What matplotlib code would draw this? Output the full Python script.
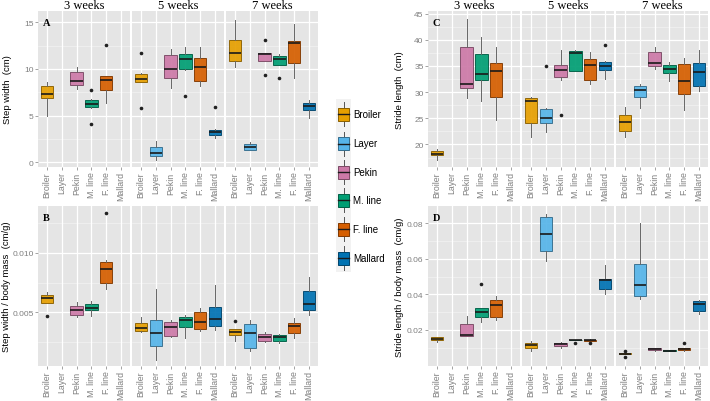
import numpy as np
import matplotlib
matplotlib.use("Agg")
import matplotlib.pyplot as plt
from matplotlib.patches import Rectangle
from matplotlib.colors import to_rgb

nan = np.nan
breeds = ["Broiler", "Layer", "Pekin", "M. line", "F. line", "Mallard"]
weeks = ["3 weeks", "5 weeks", "7 weeks"]
colors = ["#E69F00", "#56B4E9", "#CC79A7", "#009E73", "#D55E00", "#0072B2"]

# ---- Panel A: step width (cm) ----
A_lo = [[5.0, nan, 7.9, 5.8, 6.4, nan], [8.6, 0.25, 8.0, 9.9, 8.2, 2.56], [10.2, 1.3, 10.9, 10.4, 9.0, 4.7]]
A_q1 = [[6.84, nan, 8.3, 5.88, 7.76, nan], [8.55, 0.64, 8.98, 9.98, 8.73, 2.95], [10.8, 1.35, 10.87, 10.44, 10.58, 5.62]]
A_md = [[7.3, nan, 8.69, 6.2, 8.8, nan], [8.94, 0.99, 9.98, 11.05, 10.2, 3.2], [11.69, 1.67, 11.58, 11.05, 12.76, 6.05]]
A_q3 = [[8.12, nan, 9.62, 6.69, 9.19, nan], [9.47, 1.6, 11.47, 11.58, 11.2, 3.49], [13.1, 1.96, 11.69, 11.33, 13.0, 6.34]]
A_hi = [[8.55, nan, 10.16, 6.83, 9.19, nan], [9.6, 2.31, 12.1, 12.3, 12.36, 3.6], [15.25, 2.2, 11.75, 11.6, 14.86, 6.69]]
A_fl = [[[], [], [], [7.76, 4.1], [12.57], []],
        [[11.69, 5.8], [], [], [7.05], [], [5.88]],
        [[], [], [13.08, 9.33], [9.01], [], []]]

# ---- Panel B: step width / body mass (cm/g) ----
B_lo = [[0.00583, nan, 0.00458, 0.00472, 0.0070, nan],
        [0.00339, 0.00106, 0.00292, 0.00283, 0.00347, 0.00356],
        [0.00258, 0.00175, 0.0025, 0.00247, 0.00286, 0.00478]]
B_q1 = [[0.00583, nan, 0.00478, 0.00522, 0.0075, nan],
        [0.00347, 0.00222, 0.00306, 0.00375, 0.00361, 0.00383],
        [0.00314, 0.0020, 0.00264, 0.00258, 0.00328, 0.00522]]
B_md = [[0.00617, nan, 0.00522, 0.00539, 0.00861, nan],
        [0.00367, 0.00325, 0.0038, 0.00436, 0.00422, 0.00444],
        [0.00339, 0.00328, 0.00292, 0.00297, 0.00389, 0.00569]]
B_q3 = [[0.00644, nan, 0.0055, 0.00567, 0.00922, nan],
        [0.00411, 0.00436, 0.00422, 0.00458, 0.0050, 0.00542],
        [0.00361, 0.00403, 0.00319, 0.00311, 0.00408, 0.00681]]
B_hi = [[0.00672, nan, 0.00589, 0.00597, 0.00936, nan],
        [0.00458, 0.00694, 0.00436, 0.00478, 0.00533, 0.00733],
        [0.00361, 0.00436, 0.00333, 0.00317, 0.0045, 0.0080]]
B_fl = [[[0.00472], [], [], [], [0.01328], []],
        [[], [], [], [], [], []],
        [[0.00425], [], [], [], [], []]]

# ---- Panel C: stride length (cm) ----
C_lo = [[17.1, nan, 28.9, 28.3, 24.7, nan], [21.4, 22.4, 32.3, 34.0, 31.5, 32.6], [21.4, 26.9, 34.4, 32.2, 26.5, 30.2]]
C_q1 = [[17.9, nan, 30.8, 32.4, 29.0, nan], [24.1, 24.1, 32.8, 34.0, 32.4, 34.2], [22.5, 29.1, 34.9, 33.6, 29.6, 31.2]]
C_md = [[18.2, nan, 31.5, 33.4, 34.1, nan], [28.3, 25.1, 34.2, 37.4, 35.1, 34.9], [24.3, 30.4, 35.6, 34.4, 32.1, 33.8]]
C_q3 = [[18.85, nan, 38.7, 37.2, 35.5, nan], [28.8, 26.7, 35.1, 37.9, 36.3, 35.7], [25.6, 31.2, 37.6, 35.1, 35.3, 35.5]]
C_hi = [[19.2, nan, 44.0, 40.6, 38.7, nan], [29.0, 26.9, 38.0, 38.1, 37.6, 35.9], [27.2, 31.5, 38.7, 35.8, 36.5, 38.1]]
C_fl = [[[], [], [], [], [], []],
        [[], [34.9], [25.6], [], [], [39.0]],
        [[], [], [], [], [], []]]

# ---- Panel D: stride length / body mass (cm/g) ----
D_lo = [[0.0133, nan, 0.0166, 0.0247, 0.0254, nan],
        [0.0083, 0.0589, 0.0096, 0.0141, 0.0138, 0.0403],
        [0.0062, 0.0375, 0.0083, 0.0080, 0.0083, 0.0291]]
D_q1 = [[0.0142, nan, 0.0166, 0.0275, 0.0273, nan],
        [0.0101, 0.0645, 0.0107, 0.0141, 0.0138, 0.0431],
        [0.0062, 0.0390, 0.0085, 0.0081, 0.0085, 0.0306]]
D_md = [[0.0151, nan, 0.0172, 0.0301, 0.0342, nan],
        [0.0114, 0.0740, 0.0120, 0.0142, 0.0142, 0.0480],
        [0.0064, 0.0455, 0.0090, 0.0084, 0.0094, 0.0343]]
D_q3 = [[0.0159, nan, 0.0235, 0.0321, 0.0371, nan],
        [0.0125, 0.0837, 0.0129, 0.0143, 0.0146, 0.0489],
        [0.0068, 0.0572, 0.0096, 0.0088, 0.0099, 0.0362]]
D_hi = [[0.0162, nan, 0.0278, 0.0325, 0.0390, nan],
        [0.0138, 0.0852, 0.0131, 0.0144, 0.0147, 0.0567],
        [0.0068, 0.0800, 0.0098, 0.0089, 0.0101, 0.0368]]
D_fl = [[[], [], [], [0.0461], [], []],
        [[], [], [], [0.0124], [0.0129], []],
        [[0.0083, 0.0045], [], [], [], [0.0125], []]]

panels = [
    dict(letter="A", data=(A_lo, A_q1, A_md, A_q3, A_hi, A_fl), ylim=(-0.5, 16.2),
         yticks=[0, 5, 10, 15], ylabels=["0", "5", "10", "15"], label="Step width  (cm)",
         box=(38, 12, 318, 168)),
    dict(letter="B", data=(B_lo, B_q1, B_md, B_q3, B_hi, B_fl), ylim=(0.00052, 0.0139),
         yticks=[0.005, 0.010], ylabels=["0.005", "0.010"], label="Step width / body mass  (cm/g)",
         box=(38, 207, 318, 367)),
    dict(letter="C", data=(C_lo, C_q1, C_md, C_q3, C_hi, C_fl), ylim=(15.7, 45.5),
         yticks=[20, 25, 30, 35, 40, 45], ylabels=["20", "25", "30", "35", "40", "45"],
         label="Stride length  (cm)", box=(428, 12, 708, 168)),
    dict(letter="D", data=(D_lo, D_q1, D_md, D_q3, D_hi, D_fl), ylim=(-0.0003, 0.0897),
         yticks=[0.02, 0.04, 0.06, 0.08], ylabels=["0.02", "0.04", "0.06", "0.08"],
         label="Stride length / body mass  (cm/g)", box=(428, 207, 708, 367)),
]

W, H = 710, 402
fig = plt.figure(figsize=(W / 100, H / 100), dpi=100)
SANS = "Liberation Sans"
SERIF = "Liberation Serif"
TICKC = "#7F7F7F"
BG = "#E5E5E5"


def darker(c, f=0.55):
    r, g, b = to_rgb(c)
    return (r * f, g * f, b * f)


def px_axes(x0, y0, x1, y1):
    return fig.add_axes([x0 / W, 1 - y1 / H, (x1 - x0) / W, (y1 - y0) / H])


gap = 2.0
for p in panels:
    x0, y0, x1, y1 = p["box"]
    fw = (x1 - x0 - 2 * gap) / 3
    lo, q1, md, q3, hi, fl = p["data"]
    for w in range(3):
        fx0 = x0 + w * (fw + gap)
        ax = px_axes(fx0, y0, fx0 + fw, y1)
        ax.set_facecolor(BG)
        for s in ax.spines.values():
            s.set_visible(False)
        ax.set_xlim(0.4, 6.6)
        ax.set_ylim(*p["ylim"])
        yt = p["yticks"]
        step = yt[1] - yt[0]
        minors = [t - step / 2 for t in yt] + [yt[-1] + step / 2]
        for m in minors:
            ax.axhline(m, color="#F2F2F2", lw=0.5, zorder=0.5)
        for t in yt:
            ax.axhline(t, color="white", lw=0.9, zorder=0.6)
        for i in range(6):
            ax.axvline(i + 1, color="white", lw=0.9, zorder=0.6)
        stats = []
        pos = []
        for i in range(6):
            if np.isnan(md[w][i]):
                continue
            stats.append(dict(whislo=lo[w][i], q1=q1[w][i], med=md[w][i], q3=q3[w][i],
                              whishi=hi[w][i], fliers=fl[w][i]))
            pos.append(i + 1)
        bp = ax.bxp(stats, positions=pos, widths=0.82, patch_artist=True, showcaps=False,
                    manage_ticks=False,
                    flierprops=dict(marker="o", markersize=1.6, markerfacecolor="#222222",
                                    markeredgecolor="#222222", linestyle="none"),
                    whiskerprops=dict(color="#666666", lw=0.7),
                    medianprops=dict(lw=1.2))
        ci = [i for i in range(6) if not np.isnan(md[w][i])]
        for k, i in enumerate(ci):
            bp["boxes"][k].set_facecolor(colors[i])
            bp["boxes"][k].set_alpha(0.92)
            bp["boxes"][k].set_edgecolor(darker(colors[i], 0.6))
            bp["boxes"][k].set_linewidth(0.7)
            bp["medians"][k].set_color("#1a1a1a")
        ax.set_xticks(range(1, 7))
        ax.set_xticklabels(breeds, rotation=90, fontsize=6.3, color=TICKC, family=SANS)
        ax.tick_params(axis="both", length=2, width=0.5, color=TICKC, pad=1.2)
        if w == 0:
            ax.set_yticks(yt)
            ax.set_yticklabels(p["ylabels"], fontsize=6.0, color=TICKC, family=SANS)
            ax.text(0.05, 0.955, p["letter"], transform=ax.transAxes, ha="left", va="top",
                    fontsize=7.5, fontweight="bold", family=SERIF)
        else:
            ax.set_yticks(yt)
            ax.set_yticklabels([])
            ax.tick_params(axis="y", length=0)
        if y0 < 100:
            fig.text((fx0 + fw / 2) / W, 1 - 6 / H, weeks[w], ha="center", va="center",
                     fontsize=9, family=SERIF)
    lx = 7 if x0 < 100 else 400
    fig.text(lx / W, 1 - ((y0 + y1) / 2) / H, p["label"], rotation=90, ha="center",
             va="center", fontsize=6.8, family=SANS)

# ---- legend ----
lg = px_axes(336, 100, 351, 273)
lg.set_xlim(0, 1)
lg.set_ylim(273, 100)
lg.set_facecolor("#F2F2F2")
for s in lg.spines.values():
    s.set_visible(False)
lg.set_xticks([])
lg.set_yticks([])
centers = [115, 144.5, 173, 201, 230, 259]
for c, col, name in zip(centers, colors, breeds):
    lg.plot([0.5, 0.5], [c - 12, c + 12], color="#555555", lw=0.7, zorder=1)
    lg.add_patch(Rectangle((0.12, c - 6.5), 0.76, 13, facecolor=col, edgecolor=darker(col, 0.6),
                           lw=0.7, zorder=2))
    lg.plot([0.12, 0.88], [c, c], color="#1a1a1a", lw=1.0, zorder=3)
    fig.text(353 / W, 1 - c / H, name, ha="left", va="center", fontsize=7, family=SANS)

fig.savefig("out.png", dpi=100)
